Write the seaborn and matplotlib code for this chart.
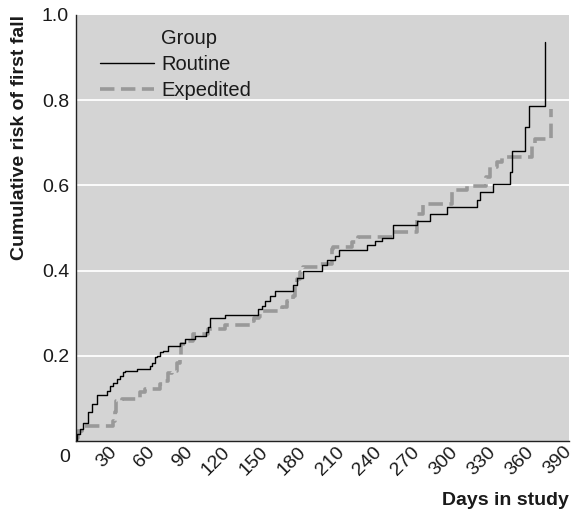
import matplotlib
matplotlib.use("Agg")
import matplotlib.pyplot as plt
from matplotlib.lines import Line2D
from matplotlib.transforms import ScaledTranslation
import seaborn as sns
import pandas as pd

# ---- data ----
routine_days = [0, 0.5, 3.2, 5.3, 9.7, 12.4, 16.9, 24.3, 26.9, 29.5, 32.2, 34.8, 37.5, 38.8,
                48, 58.5, 59.8, 62.5, 63.8, 66.4, 69.1, 73, 82, 86, 94, 103, 104.6, 106, 118,
                144.2, 146.9, 149.5, 153.5, 157.4, 171.9, 174.6, 179.8, 194.4, 198.3, 204.9,
                208.3, 230, 236.6, 241.9, 251, 269.5, 280.1, 293.3, 317, 319.6, 329.7, 343.4,
                345.2, 355.2, 358.4, 371]
routine_risk = [0.0, 0.016, 0.028, 0.043, 0.067, 0.087, 0.108, 0.118, 0.129, 0.137, 0.145, 0.153,
                0.161, 0.165, 0.169, 0.176, 0.184, 0.196, 0.2, 0.208, 0.212, 0.224, 0.231, 0.239,
                0.247, 0.255, 0.268, 0.288, 0.296, 0.311, 0.318, 0.329, 0.341, 0.353, 0.365,
                0.383, 0.4, 0.412, 0.424, 0.435, 0.449, 0.459, 0.469, 0.477, 0.506, 0.516,
                0.533, 0.549, 0.565, 0.584, 0.604, 0.631, 0.68, 0.737, 0.786, 0.937]

expedited_days = [0, 1.8, 4.5, 29.5, 30.9, 32, 36, 50.6, 54.6, 66.4, 69, 73, 75.6, 79.6, 82.3,
                  83, 87.5, 92.8, 104.5, 117.9, 138.5, 141.1, 145, 147, 162.7, 166.7, 171.9,
                  173.3, 174.6, 177.2, 179.8, 193, 202.3, 203.6, 218, 223.3, 251, 269.5, 274.8,
                  297.2, 299.8, 309, 324.5, 327.5, 332.8, 336.8, 360.5, 363.1, 375.5]
expedited_risk = [0.008, 0.024, 0.035, 0.047, 0.067, 0.094, 0.098, 0.114, 0.122, 0.133, 0.141,
                  0.16, 0.165, 0.184, 0.2, 0.227, 0.235, 0.251, 0.262, 0.272, 0.281, 0.289,
                  0.294, 0.304, 0.315, 0.329, 0.341, 0.369, 0.38, 0.396, 0.408, 0.416, 0.451,
                  0.456, 0.467, 0.48, 0.49, 0.533, 0.557, 0.584, 0.59, 0.598, 0.62, 0.643,
                  0.655, 0.667, 0.692, 0.71, 0.78]

groups = ["Routine", "Expedited"]
x_ticks = list(range(0, 391, 30))
y_ticks = [0.2, 0.4, 0.6, 0.8, 1.0]
x_label = "Days in study"
y_label = "Cumulative risk of first fall"
legend_title = "Group"

routine_df = pd.DataFrame({"day": routine_days, "risk": routine_risk})
expedited_df = pd.DataFrame({"day": expedited_days, "risk": expedited_risk})

# ---- styling ----
sns.set_style("white")
plt.rcParams["font.family"] = ["Liberation Sans", "DejaVu Sans"]
text_color = "#1a1a1a"
bg = "#d4d4d4"
grey = "#999999"

fig = plt.figure(figsize=(5.75, 5.11), dpi=100)
ax = fig.add_axes([0.1322, 0.137, 0.8574, 0.8337])
ax.set_facecolor(bg)

for yv in [0.2, 0.4, 0.6, 0.8]:
    ax.axhline(yv, color="white", lw=1.3, zorder=0.5)

sns.lineplot(data=expedited_df, x="day", y="risk", ax=ax, drawstyle="steps-post",
             estimator=None, sort=False, color=grey, lw=2.6, linestyle=(0, (4, 1.8)),
             zorder=2)
sns.lineplot(data=routine_df, x="day", y="risk", ax=ax, drawstyle="steps-post",
             estimator=None, sort=False, color="black", lw=1.0, zorder=3)

ax.set_xlim(0, 390)
ax.set_ylim(0, 1.0)
ax.set_xticks(x_ticks)
ax.set_yticks(y_ticks)
ax.set_yticklabels([f"{v:.1f}" for v in y_ticks])

ax.tick_params(axis="both", direction="in", length=6, width=1, color="#222222",
               labelsize=14, labelcolor=text_color, pad=5)
ax.tick_params(axis="x", pad=6)

labels = ax.set_xticklabels([str(v) for v in x_ticks])
for i, lab in enumerate(labels):
    if i == 0:
        lab.set_rotation(0)
        lab.set_ha("right")
        lab.set_va("top")
        lab.set_transform(lab.get_transform() + ScaledTranslation(-6 / 100, 0, fig.dpi_scale_trans))
    else:
        lab.set_rotation(45)
        lab.set_ha("right")
        lab.set_va("center")
        lab.set_rotation_mode("anchor")

for s in ["top", "right"]:
    ax.spines[s].set_visible(False)
for s in ["left", "bottom"]:
    ax.spines[s].set_color("#222222")
    ax.spines[s].set_linewidth(1.0)

ax.set_xlabel(x_label, loc="right", fontsize=14, fontweight="bold", color=text_color, labelpad=10)
ax.set_ylabel(y_label, loc="top", fontsize=14, fontweight="bold", color=text_color, labelpad=10)

handles = [Line2D([], [], color="none"),
           Line2D([], [], color="black", lw=1.0),
           Line2D([], [], color=grey, lw=2.6, linestyle=(0, (4, 1.8)))]
leg = ax.legend(handles, [legend_title] + groups, loc="upper left",
                bbox_to_anchor=(0.012, 1.009), frameon=False, fontsize=14.5,
                handlelength=2.7, handletextpad=0.35, labelspacing=0.35)
for t in leg.get_texts():
    t.set_color(text_color)

fig.savefig("out.png", dpi=100)
